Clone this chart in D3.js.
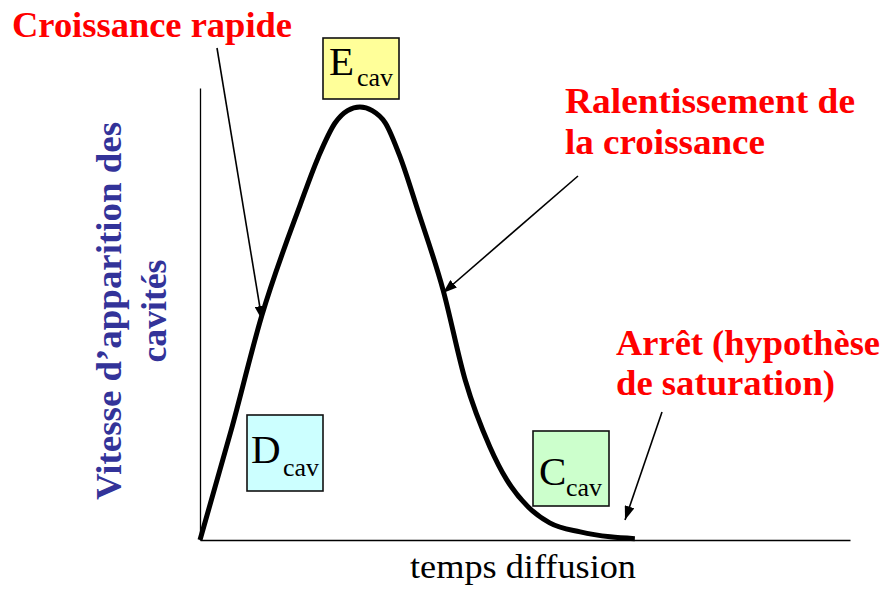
<!DOCTYPE html>
<html>
<head>
<meta charset="utf-8">
<script src="https://cdn.jsdelivr.net/npm/d3@7"></script>
<style>
  html, body { margin: 0; padding: 0; background: #fff; }
  svg { display: block; }
</style>
</head>
<body>
<svg id="chart" width="883" height="592"></svg>
<script>
// Cavity appearance rate over diffusion time
const times = [0, 0.48, 0.95, 1.54, 1.82, 2.08, 2.27, 2.46, 2.65, 2.85, 3.08, 3.35, 3.74, 4.08, 4.46, 4.72, 5.05, 5.38, 5.85, 6.31, 6.69];
const rates = [0, 24.3, 49.6, 74.1, 84.7, 92.3, 95.0, 95.8, 95.0, 92.3, 84.7, 73.0, 55.3, 35.4, 20.6, 13.3, 7.3, 3.8, 1.8, 0.7, 0.3];

// Stage boxes: letter, subscript, fill
const stageLetters = ["D", "E", "C"];
const stageSub = ["cav", "cav", "cav"];
const stageFills = ["#ccffff", "#ffff99", "#ccffcc"];

const xTitle = "temps diffusion";
const yTitleLines = ["Vitesse d\u2019apparition des", "cavités"];
const noteRapide = ["Croissance rapide"];
const noteRalent = ["Ralentissement de", "la croissance"];
const noteArret = ["Arrêt (hypothèse", "de saturation)"];

const svg = d3.select("#chart");
const SERIF = '"Liberation Serif", "Times New Roman", serif';

const x = d3.scaleLinear().domain([0, 10]).range([200, 850]);
const y = d3.scaleLinear().domain([0, 100]).range([540, 88]);

// Axes: bare lines, no ticks
svg.append("g")
  .attr("transform", `translate(0,${y(0)})`)
  .call(d3.axisBottom(x).tickValues([]).tickSizeOuter(0))
  .call(g => g.select(".domain").attr("stroke", "#000").attr("stroke-width", 1.3));
svg.append("g")
  .attr("transform", `translate(${x(0)},0)`)
  .call(d3.axisLeft(y).tickValues([]).tickSizeOuter(0))
  .call(g => g.select(".domain").attr("stroke", "#000").attr("stroke-width", 1.3));

// Curve
const pts = times.map((t, i) => [t, rates[i]]);
svg.append("path")
  .datum(pts)
  .attr("fill", "none")
  .attr("stroke", "#000")
  .attr("stroke-width", 5)
  .attr("d", d3.line().x(d => x(d[0])).y(d => y(d[1])).curve(d3.curveMonotoneX));

function txt(parent, s, px, py, size, opts = {}) {
  const t = parent.append("text")
    .attr("x", px).attr("y", py)
    .style("font-family", SERIF)
    .style("font-size", size + "px")
    .style("font-weight", opts.bold ? "bold" : "normal")
    .attr("fill", opts.fill || "#000")
    .text(s);
  if (opts.anchor) t.attr("text-anchor", opts.anchor);
  if (opts.width) t.attr("textLength", opts.width).attr("lengthAdjust", "spacingAndGlyphs");
  return t;
}

// Stage boxes
const boxLayout = [
  { x: 247, y: 415, w: 76, h: 76, lx: 251, ly: 463, sx: 283, sy: 476 },
  { x: 323, y: 38, w: 76, h: 61, lx: 329, ly: 75, sx: 357, sy: 86 },
  { x: 533, y: 431, w: 76, h: 75, lx: 539, ly: 485, sx: 566, sy: 496 }
];
stageLetters.forEach((letter, i) => {
  const b = boxLayout[i];
  svg.append("rect")
    .attr("x", b.x).attr("y", b.y).attr("width", b.w).attr("height", b.h)
    .attr("fill", stageFills[i]).attr("stroke", "#111").attr("stroke-width", 1.6);
  txt(svg, letter, b.lx, b.ly, 41);
  txt(svg, stageSub[i], b.sx, b.sy, 26);
});

// Arrow marker
svg.append("defs").append("marker")
  .attr("id", "head")
  .attr("viewBox", "0 0 14 10")
  .attr("refX", 14).attr("refY", 5)
  .attr("markerWidth", 14).attr("markerHeight", 10)
  .attr("markerUnits", "userSpaceOnUse")
  .attr("orient", "auto")
  .append("path").attr("d", "M0,0 L14,5 L0,10 Z").attr("fill", "#000");

const arrows = [
  [217, 48, 262, 320],
  [578, 176, 443, 293],
  [662, 412, 625, 520]
];
arrows.forEach(a => {
  svg.append("line")
    .attr("x1", a[0]).attr("y1", a[1]).attr("x2", a[2]).attr("y2", a[3])
    .attr("stroke", "#000").attr("stroke-width", 1.6)
    .attr("marker-end", "url(#head)");
});

// Red annotations
function redNote(lines, x0, y0, dy, widths) {
  lines.forEach((s, i) => {
    txt(svg, s, x0, y0 + i * dy, 36, { bold: true, fill: "#ff0000", width: widths[i] });
  });
}
redNote(noteRapide, 12, 37, 0, [280]);
redNote(noteRalent, 565, 113, 41, [290, 200]);
redNote(noteArret, 616, 355, 40, [264, 219]);

// Axis titles
txt(svg, xTitle, 410, 578, 33, { width: 226 });

const yt = svg.append("g").attr("transform", "translate(0,311) rotate(-90)");
txt(yt, yTitleLines[0], 0, 121, 36, { bold: true, fill: "#333399", anchor: "middle", width: 378 });
txt(yt, yTitleLines[1], 0, 166, 36, { bold: true, fill: "#333399", anchor: "middle", width: 103 });
</script>
</body>
</html>
